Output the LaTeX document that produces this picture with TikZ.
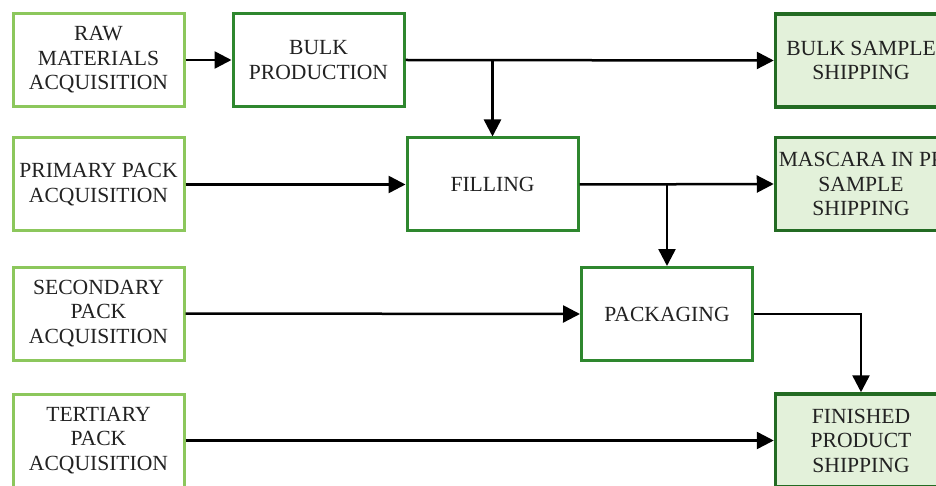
\documentclass[tikz,border=0pt]{standalone}
\usepackage{fontspec}
\setmainfont{Liberation Serif}
\usetikzlibrary{arrows.meta}

\definecolor{srcgreen}{HTML}{8CC75C}
\definecolor{procgreen}{HTML}{2E872E}
\definecolor{shipgreen}{HTML}{236B23}
\definecolor{shipfill}{HTML}{E3F1DA}
\definecolor{txt}{HTML}{222222}

\tikzset{
  box/.style={rectangle, minimum width=171pt, minimum height=93pt, inner sep=0pt,
    align=center, text=txt, font=\fontsize{21.6pt}{24.5pt}\selectfont},
  srcbox/.style={box, draw=srcgreen, line width=3pt, fill=white},
  procbox/.style={box, draw=procgreen, line width=3pt, fill=white},
  shipbox/.style={box, draw=shipgreen, line width=3.5pt, fill=shipfill},
  arr/.style={draw=black, line width=2.5pt, -{Triangle[length=17pt, width=17pt]}}
}

\begin{document}
\begin{tikzpicture}[x=1pt, y=-1pt]
  \useasboundingbox (0,0) rectangle (936,486);
  \clip (0,0) rectangle (936,486);
  \fill[white] (0,0) rectangle (936,486);

  % acquisition column
  \node[srcbox] (raw)  at (98.5, 60)    {RAW\\MATERIALS\\ACQUISITION};
  \node[srcbox] (prim) at (98.5, 184.5) {PRIMARY PACK\\ACQUISITION};
  \node[srcbox] (sec)  at (98.5, 313.5) {SECONDARY\\PACK\\ACQUISITION};
  \node[srcbox] (tert) at (98.5, 440.5) {TERTIARY\\PACK\\ACQUISITION};

  % production steps
  \node[procbox] (bulk) at (318.5, 60)    {BULK\\PRODUCTION};
  \node[procbox] (fill) at (492.5, 184.5) {FILLING};
  \node[procbox] (pack) at (667, 314)     {PACKAGING};

  % shipping column (runs past the right edge)
  \node[shipbox] (bship) at (861, 60.5)  {BULK SAMPLE\\SHIPPING};
  \node[shipbox] (mship) at (861, 184)   {MASCARA IN PP\\SAMPLE\\SHIPPING};
  \node[shipbox] (fship) at (861, 440.5) {FINISHED\\PRODUCT\\SHIPPING};

  % flows
  \draw[arr] (raw.east) -- (bulk.west);
  \draw[arr] (bulk.east) -- (bship.west);
  \draw[arr] (bulk.east -| fill.north) -- (fill.north);
  \draw[arr] (prim.east) -- (fill.west);
  \draw[arr] (fill.east) -- (mship.west);
  \draw[arr] (fill.east -| pack.north) -- (pack.north);
  \draw[arr] (sec.east) -- (pack.west);
  \draw[arr] (pack.east) -| (fship.north);
  \draw[arr] (tert.east) -- (fship.west);
\end{tikzpicture}
\end{document}
